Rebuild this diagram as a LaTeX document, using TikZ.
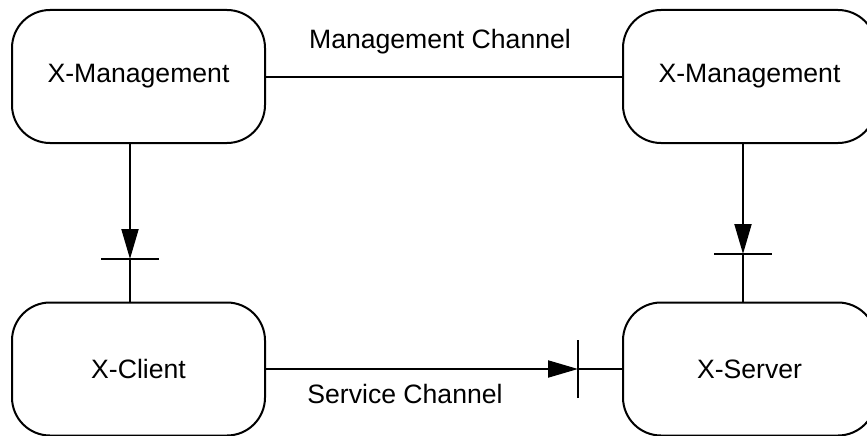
\documentclass[tikz,border=0pt]{standalone}
\usepackage{fontspec}
\setmainfont{Liberation Sans}
\usetikzlibrary{arrows.meta}
\begin{document}
\begin{tikzpicture}[x=1pt,y=-1pt,
  line width=2pt,
  box/.style={draw, rounded corners=38pt, minimum width=253pt, minimum height=133pt,
    inner sep=0pt, font=\fontsize{26.6}{32}\selectfont},
  lbl/.style={font=\fontsize{26.6}{32}\selectfont, inner sep=0pt},
  flow/.style={-{Triangle[length=30pt,width=17pt]}},
  stopbar/.style={line width=2pt}]
\useasboundingbox (0,0) rectangle (867,436);

% entities
\node[box] (mgL) at (138.5,76.5) {X-Management};
\node[box] (mgR) at (749.5,76.5) {X-Management};
\node[box] (cli) at (138.5,369)  {X-Client};
\node[box] (srv) at (749.5,369)  {X-Server};

% bar positions on the connectors
\coordinate (barL) at (130,259);
\coordinate (barR) at (743,254);
\coordinate (barS) at (578,369);

% management channel
\draw (mgL.east) -- (mgR.west);
\node[lbl] (mch) at (440,42) {Management Channel};

% management to client
\draw[flow] (mgL.south -| barL) -- (barL);
\draw (barL) -- (cli.north -| barL);
\draw[stopbar] ([xshift=-29pt]barL) -- ([xshift=29pt]barL);

% management to server
\draw[flow] (mgR.south -| barR) -- (barR);
\draw (barR) -- (srv.north -| barR);
\draw[stopbar] ([xshift=-29pt]barR) -- ([xshift=29pt]barR);

% service channel
\draw[flow] (cli.east) -- (barS);
\draw (barS) -- (srv.west);
\draw[stopbar] ([yshift=-29pt]barS) -- ([yshift=29pt]barS);
\node[lbl] (sch) at (405,394) {Service Channel};
\end{tikzpicture}
\end{document}
